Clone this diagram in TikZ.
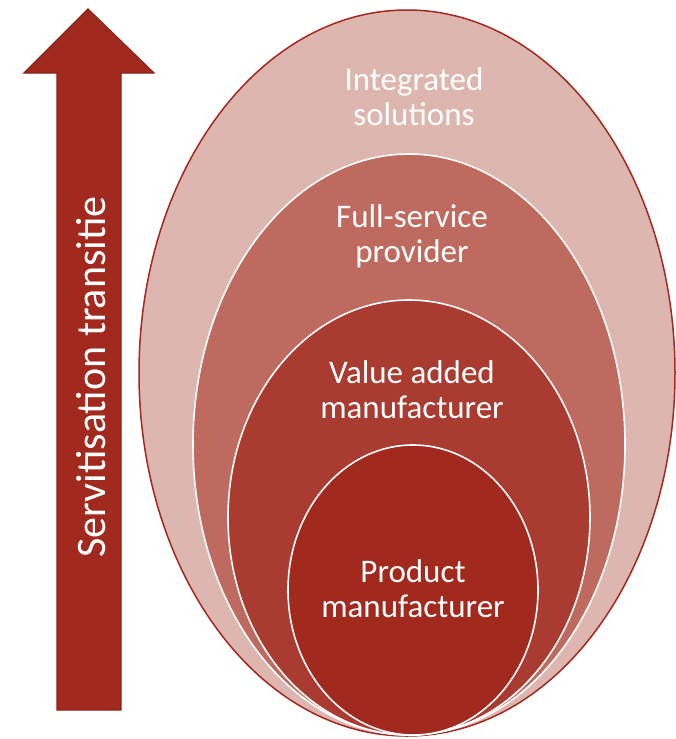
\documentclass[tikz,border=0pt]{standalone}
\usepackage{fontspec}
\setmainfont{Carlito}
\definecolor{ringA}{HTML}{DEB6B0}
\definecolor{ringB}{HTML}{BF6A5E}
\definecolor{ringC}{HTML}{A93B30}
\definecolor{ringD}{HTML}{A1291E}
\definecolor{edgeRed}{HTML}{A3281D}
\definecolor{arrowEdge}{HTML}{8C2216}
\tikzset{
  lbl/.style={text=white, align=center, anchor=base, font=\fontsize{33}{34.5}\selectfont},
  ring/.style={draw=white, line width=1.6pt},
}
\begin{document}
\begin{tikzpicture}[x=1pt,y=-1pt]
\useasboundingbox (0,0) rectangle (675,739);
% arrow
\draw[fill=ringD, draw=arrowEdge, line width=1.2pt, line join=miter]
  (57,710) -- (57,73) -- (24,73) -- (88,9) -- (154,73) -- (121,73) -- (121,710) -- cycle;
\node (arrowlbl) [text=white, rotate=90, font=\fontsize{42}{48}\selectfont, anchor=base] at (105,377) {Servitisation transitie};
% ellipses
\draw[fill=ringA, draw=edgeRed, line width=1.5pt] (407,373) ellipse [x radius=268, y radius=363];
\draw[ring, fill=ringB] (409,444.5) ellipse [x radius=216, y radius=290.5];
\draw[ring, fill=ringC] (409,517.5) ellipse [x radius=181, y radius=217.5];
\draw[ring, fill=ringD] (413,590) ellipse [x radius=125, y radius=145];
% labels
\node (l1) [lbl] at (414,125) {Integrated\\solutions};
\node (l2) [lbl] at (412,262) {Full-service\\provider};
\node (l3) [lbl] at (412,418) {Value added\\manufacturer};
\node (l4) [lbl] at (413,617) {Product\\manufacturer};
\end{tikzpicture}
\end{document}
